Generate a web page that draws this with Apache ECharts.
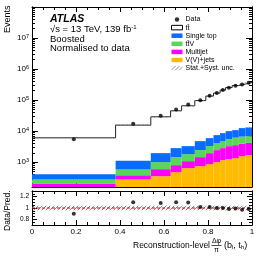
<!DOCTYPE html>
<html><head><meta charset="utf-8">
<script src="https://cdn.jsdelivr.net/npm/echarts@6/dist/echarts.min.js"></script>
<style>html,body{margin:0;padding:0;background:#fff}#c{width:266px;height:258px}</style>
</head><body><div id="c"></div>
<script>
// ---- data ----
const binEdges = [0, 0.38, 0.54, 0.63, 0.68, 0.74, 0.79, 0.825, 0.855, 0.88, 0.91, 0.94, 0.97, 1.0];
const vvJets    = [125, 277, 353, 475, 640, 743, 861, 1000, 1160, 1250, 1345, 1560, 1680];
const multijet  = [81, 104, 241, 325, 436, 707, 1089, 1440, 1670, 2030, 2185, 2390, 2520];
const ttV       = [71, 201, 406, 650, 734, 990, 1330, 1660, 1920, 2240, 2640, 2700, 2700];
const singleTop = [133, 518, 950, 1380, 1470, 2310, 2660, 3330, 3860, 4480, 4590, 5850, 6250];
const ttbar     = [5670, 14500, 26950, 42370, 62220, 91650, 128560, 160570, 201390, 243000, 283240, 315500, 353850];
const dataVals  = [5470, 17200, 31500, 49700, 72000, 98300, 137000, 168000, 210000, 248000, 291000, 318000, 360000];
const uncRel    = [0.04, 0.04, 0.04, 0.04, 0.04, 0.04, 0.04, 0.04, 0.04, 0.04, 0.04, 0.04, 0.04];
const xTickLabels = [0, 0.2, 0.4, 0.6, 0.8, 1];
const yMajorTicks = [1e3, 1e4, 1e5, 1e6, 1e7];
const ratioTickLabels = [0.8, 1, 1.2];

const Y_MIN = 158, Y_MAX = 1e8;
const FONT = 'Liberation Sans, Arial, sans-serif';
const colors = {vv:'#ffbb00', mj:'#ff00ff', ttv:'#5ad65a', st:'#0a6cff'};

// hatch pattern
const pc = document.createElement('canvas'); pc.width = 4; pc.height = 4;
const g = pc.getContext('2d'); g.strokeStyle = '#666'; g.lineWidth = 0.8;
g.beginPath(); g.moveTo(0,4); g.lineTo(4,0); g.moveTo(-1,1); g.lineTo(1,-1); g.moveTo(3,5); g.lineTo(5,3); g.stroke();
const hatch = {image: pc, repeat: 'repeat'};

// derived stacks
const layers = [vvJets, multijet, ttV, singleTop];
const cum = []; let run = binEdges.slice(1).map(()=>0);
layers.forEach(l => { const bot = run.slice(); run = run.map((v,i)=>v+l[i]); cum.push({bot, top: run.slice()}); });
const total = run.map((v,i)=>v+ttbar[i]);
const ratio = dataVals.map((d,i)=>d/total[i]);
const centers = binEdges.slice(1).map((e,i)=>(e+binEdges[i])/2);

function rectItem(color){
  return function(params, api){
    const p1 = api.coord([api.value(0), api.value(3)]);
    const p2 = api.coord([api.value(1), api.value(2)]);
    return {type:'rect', shape:{x:p1[0], y:p1[1], width:p2[0]-p1[0], height:p2[1]-p1[1]}, style:{fill: color}};
  };
}
function stackSeries(name, idx, color){
  return {name, type:'custom', xAxisIndex:0, yAxisIndex:0, renderItem: rectItem(color),
    encode:{x:[0,1], y:[2,3]}, silent:true, z:2,
    data: centers.map((c,i)=>[binEdges[i], binEdges[i+1], Math.max(Y_MIN, cum[idx].bot[i]), Math.max(Y_MIN, cum[idx].top[i])])};
}
const stepData = binEdges.map((e,i)=>[e, total[Math.min(i, total.length-1)]]);

function logMinor(){ const out=[]; for(let d=2; d<8; d++){ for(let k=2;k<10;k++){ const v=k*Math.pow(10,d); if(v>Y_MIN && v<Y_MAX) out.push(v);} } return out; }
const minorY = logMinor();

const grids = [
  {left:32, right:14, top:7, height:180},
  {left:32, right:14, top:191, height:34}
];
function xAx(gi, pos, labels){
  return {type:'value', gridIndex:gi, position:pos, min:0, max:1, interval:0.2,
    axisLine:{show:true, onZero:false, lineStyle:{color:'#000', width:1}},
    axisTick:{show:true, inside:true, length:5, lineStyle:{color:'#000'}},
    minorTick:{show:true, splitNumber:4, length:3, lineStyle:{color:'#000'}},
    splitLine:{show:false},
    axisLabel:{show:labels, color:'#000', fontSize:8, fontFamily:FONT, margin:3,
      formatter: v => (xTickLabels.indexOf(+v.toFixed(2))>=0 ? String(+v.toFixed(2)) : '')}};
}
function yLog(pos, major, labels){
  return {type:'log', gridIndex:0, position:pos, min:Y_MIN, max:Y_MAX, logBase:10,
    axisLine:{show:true, lineStyle:{color:'#000', width:1}},
    axisTick:{show:true, inside:true, length: major?6:3, customValues: major? yMajorTicks : minorY, lineStyle:{color:'#000'}},
    splitLine:{show:false},
    axisLabel:{show:labels, customValues: yMajorTicks, margin:3, color:'#000', fontFamily:FONT,
      formatter: v => '{b|10}{s|' + Math.round(Math.log10(v)) + '}',
      rich:{b:{fontSize:8, fontFamily:FONT, color:'#000', lineHeight:10}, s:{fontSize:5.5, fontFamily:FONT, color:'#000', verticalAlign:'top', lineHeight:6}}}};
}
function yRatio(pos, major, labels){
  const minorVals=[]; for(let v=0.75; v<1.3; v+=0.05){ minorVals.push(+v.toFixed(2)); }
  return {type:'value', gridIndex:1, position:pos, min:0.7, max:1.3,
    axisLine:{show:true, lineStyle:{color:'#000', width:1}},
    axisTick:{show:true, inside:true, length: major?5:3, customValues: major? ratioTickLabels : minorVals, lineStyle:{color:'#000'}},
    splitLine:{show:false},
    axisLabel:{show:labels, customValues: ratioTickLabels, margin:3, color:'#000', fontSize:6.5, fontFamily:FONT}};
}

const option = {
  animation:false,
  grid: grids,
  xAxis: [xAx(0,'bottom',false), xAx(1,'bottom',true), xAx(0,'top',false), xAx(1,'top',false)],
  yAxis: [yLog('left',true,true), yLog('left',false,false), yLog('right',true,false), yLog('right',false,false),
          yRatio('left',true,true), yRatio('left',false,false), yRatio('right',true,false), yRatio('right',false,false)],
  legend:{orient:'vertical', left:166, top:11, itemWidth:11, itemHeight:4.5, itemGap:1.1,
    textStyle:{fontSize:7, fontFamily:FONT, color:'#000', lineHeight:5, padding:[0,0,0,-2]},
    data:[
      {name:'Data', icon:'circle', itemStyle:{color:'#000'}},
      {name:'tt\u0304', icon:'rect', itemStyle:{color:'#fff', borderColor:'#000', borderWidth:1}},
      {name:'Single top', icon:'rect', itemStyle:{color:colors.st}},
      {name:'tt\u0304V', icon:'rect', itemStyle:{color:colors.ttv}},
      {name:'Multijet', icon:'rect', itemStyle:{color:colors.mj}},
      {name:'V(V)+jets', icon:'rect', itemStyle:{color:colors.vv}},
      {name:'Stat.+Syst. unc.', icon:'rect', itemStyle:{color:hatch}}
    ], selectedMode:false},
  series:[
    stackSeries('V(V)+jets',0,colors.vv),
    stackSeries('Multijet',1,colors.mj),
    stackSeries('tt\u0304V',2,colors.ttv),
    stackSeries('Single top',3,colors.st),
    {name:'tt\u0304', type:'line', xAxisIndex:0, yAxisIndex:0, step:'end', data:stepData, symbol:'none',
      lineStyle:{color:'#222', width:1}, itemStyle:{color:'#fff'}, z:4, silent:true},
    {name:'Stat.+Syst. unc.', type:'custom', xAxisIndex:0, yAxisIndex:0, renderItem: rectItem(hatch), encode:{x:[0,1],y:[2,3]}, z:5, silent:true,
      itemStyle:{color:hatch},
      data: centers.map((c,i)=>[binEdges[i], binEdges[i+1], total[i]*(1-uncRel[i]), total[i]*(1+uncRel[i])])},
    {name:'Data', type:'scatter', xAxisIndex:0, yAxisIndex:0, symbolSize:4, itemStyle:{color:'#000'}, z:6,
      data: centers.map((c,i)=>[c, dataVals[i]])},
    {name:'ratioUnc', type:'custom', xAxisIndex:1, yAxisIndex:4, renderItem: rectItem(hatch), encode:{x:[0,1],y:[2,3]}, z:3, silent:true,
      data: centers.map((c,i)=>[binEdges[i], binEdges[i+1], 1-uncRel[i], 1+uncRel[i]])},
    {name:'ratioOne', type:'line', xAxisIndex:1, yAxisIndex:4, data:[[0,1],[1,1]], symbol:'none',
      lineStyle:{color:'#e00000', width:1, type:[3,2]}, z:4, silent:true},
    {name:'ratio', type:'scatter', xAxisIndex:1, yAxisIndex:4, symbolSize:4, itemStyle:{color:'#000'}, z:6,
      data: centers.map((c,i)=>[c, ratio[i]])}
  ],
  graphic:[
    {type:'text', x:50, y:19, style:{text:'ATLAS', font:'italic bold 10.5px '+FONT, fill:'#000', verticalAlign:'middle'}},
    {type:'text', x:50, y:29.5, style:{text:'\u221As = 13 TeV, 139 fb{s|-1}', font:'9.5px '+FONT, fill:'#000', verticalAlign:'middle',
      rich:{s:{fontSize:6, fontFamily:FONT, verticalAlign:'top', lineHeight:6}}}},
    {type:'text', x:50, y:39, style:{text:'Boosted', font:'9.5px '+FONT, fill:'#000', verticalAlign:'middle'}},
    {type:'text', x:50, y:48.5, style:{text:'Normalised to data', font:'9.5px '+FONT, fill:'#000', verticalAlign:'middle'}},
    {type:'text', x:3, y:33, rotation:Math.PI/2, style:{text:'Events', font:'9px '+FONT, fill:'#000', align:'left', verticalAlign:'top'}},
    {type:'text', x:3, y:231, rotation:Math.PI/2, style:{text:'Data/Pred.', font:'8.5px '+FONT, fill:'#000', align:'left', verticalAlign:'top'}},
    {type:'text', x:210, y:246, style:{text:'Reconstruction-level', font:'8.5px '+FONT, fill:'#000', align:'right', verticalAlign:'middle'}},
    {type:'text', x:216.5, y:241, style:{text:'\u0394\u03C6', font:'7px '+FONT, fill:'#000', align:'center', verticalAlign:'middle'}},
    {type:'line', shape:{x1:211.5, y1:245.5, x2:221.5, y2:245.5}, style:{stroke:'#000', lineWidth:0.7}},
    {type:'text', x:216.5, y:250, style:{text:'\u03C0', font:'7px '+FONT, fill:'#000', align:'center', verticalAlign:'middle'}},
    {type:'text', x:224, y:246, style:{text:'(b{s|l}, t{s|h})', font:'9px '+FONT, fill:'#000', align:'left', verticalAlign:'middle',
      rich:{s:{fontSize:6, fontFamily:FONT, verticalAlign:'bottom', lineHeight:5}}}}
  ]
};
echarts.init(document.getElementById('c'), null, {renderer:'canvas'}).setOption(option);
</script></body></html>
